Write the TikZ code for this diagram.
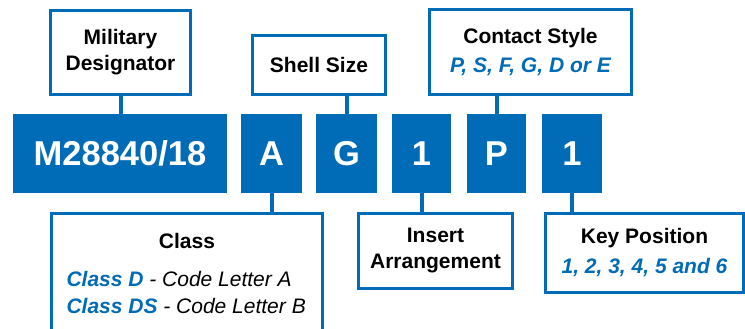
\documentclass[tikz,border=0pt]{standalone}
\usepackage{fontspec}
\setmainfont{Liberation Sans}
\usepackage{xcolor}
\definecolor{partblue}{HTML}{006BB6}

\begin{document}
\begin{tikzpicture}[x=1pt,y=1pt,
  codebox/.style={fill=partblue,text=white,inner sep=0pt,minimum height=79pt,
    font=\bfseries\fontsize{34.5}{40}\selectfont,text height=24.8pt,text depth=0pt},
  labelbox/.style={draw=partblue,line width=3pt,fill=white,inner sep=0pt,align=center,
    font=\bfseries\fontsize{21}{26}\selectfont},
  link/.style={draw=partblue,line width=4pt}]
\useasboundingbox (0,0) rectangle (745,329);
% part number
\node[codebox,minimum width=214pt] (code) at (120,175.5) {M28840/18};
\node[codebox,minimum width=61pt] (cls) at (271.5,175.5) {A};
\node[codebox,minimum width=61pt] (shl) at (346.5,175.5) {G};
\node[codebox,minimum width=59pt] (ins) at (421.5,175.5) {1};
\node[codebox,minimum width=59pt] (con) at (496.5,175.5) {P};
\node[codebox,minimum width=60pt] (key) at (572,175.5) {1};
% labels above
\node[labelbox,minimum width=140pt,minimum height=84pt] (mil) at (120.5,276.5) {Military\\Designator};
\node[labelbox,minimum width=133pt,minimum height=59pt] (shell) at (319,264) {Shell Size};
\node[labelbox,minimum width=202pt,minimum height=85pt] (contact) at (530.5,277)
  {Contact Style\\[3pt]{\color{partblue}\itshape P, S, F, G, D or E}};
% labels below
\node[labelbox,minimum width=271pt,minimum height=120pt] (class) at (187,55.5)
  {Class\\[12pt]
   \makebox[241pt][l]{{\color{partblue}\itshape Class D} {\mdseries\itshape - Code Letter A}}\\[1pt]
   \makebox[241pt][l]{{\color{partblue}\itshape Class DS} {\mdseries\itshape - Code Letter B}}};
\node[labelbox,minimum width=154pt,minimum height=75pt] (insert) at (435.5,78) {Insert\\Arrangement};
\node[labelbox,minimum width=198pt,minimum height=79pt] (keypos) at (644.5,76)
  {Key Position\\[4pt]{\color{partblue}\itshape 1, 2, 3, 4, 5 and 6}};
% connectors
\draw[link] (mil.south) -- (mil.south |- code.north);
\draw[link] (shl.north) -- (shl.north |- shell.south);
\draw[link] (con.north) -- (con.north |- contact.south);
\draw[link] (cls.south) -- (cls.south |- class.north);
\draw[link] (ins.south) -- (ins.south |- insert.north);
\draw[link] (key.south) -- (key.south |- keypos.north);
\end{tikzpicture}
\end{document}
